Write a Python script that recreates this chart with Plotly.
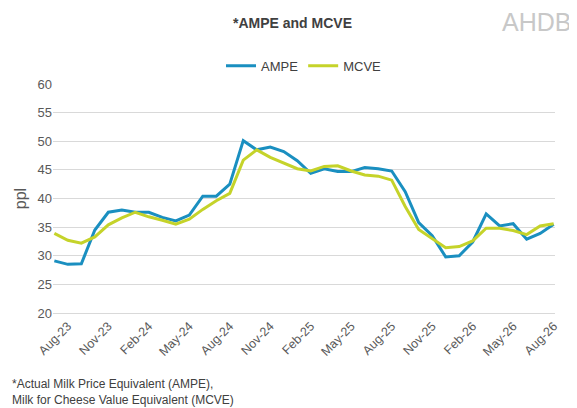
import plotly.graph_objects as go

# Monthly values, Jul-23 .. Aug-26 (ppl)
months = ["Jul-23", "Aug-23", "Sep-23", "Oct-23", "Nov-23", "Dec-23",
          "Jan-24", "Feb-24", "Mar-24", "Apr-24", "May-24", "Jun-24",
          "Jul-24", "Aug-24", "Sep-24", "Oct-24", "Nov-24", "Dec-24",
          "Jan-25", "Feb-25", "Mar-25", "Apr-25", "May-25", "Jun-25",
          "Jul-25", "Aug-25", "Sep-25", "Oct-25", "Nov-25", "Dec-25",
          "Jan-26", "Feb-26", "Mar-26", "Apr-26", "May-26", "Jun-26",
          "Jul-26", "Aug-26"]
ampe = [29.1, 28.5, 28.6, 34.5, 37.6, 38.0, 37.6, 37.6, 36.7, 36.1,
        37.1, 40.4, 40.4, 42.5, 50.1, 48.5, 49.0, 48.2, 46.6, 44.4,
        45.2, 44.7, 44.7, 45.4, 45.2, 44.8, 41.2, 35.8, 33.5, 29.8,
        30.0, 32.4, 37.3, 35.2, 35.6, 32.9, 33.9, 35.5]
mcve = [33.9, 32.7, 32.2, 33.3, 35.4, 36.6, 37.6, 36.8, 36.2, 35.5,
        36.4, 38.1, 39.6, 40.9, 46.7, 48.5, 47.2, 46.2, 45.2, 44.8,
        45.6, 45.7, 44.8, 44.1, 43.9, 43.2, 38.6, 34.6, 33.0, 31.4,
        31.6, 32.6, 34.8, 34.8, 34.4, 33.7, 35.2, 35.6]
tick_labels = months[1::3]

fig = go.Figure()
fig.add_trace(go.Scatter(x=months, y=ampe, mode="lines", name="AMPE",
                         line=dict(color="#1a8fc0", width=3)))
fig.add_trace(go.Scatter(x=months, y=mcve, mode="lines", name="MCVE",
                         line=dict(color="#c5d32a", width=3)))

fig.update_layout(
    width=569, height=400,
    paper_bgcolor="white", plot_bgcolor="white",
    font=dict(family="Liberation Sans, Arial", size=13, color="#595959"),
    margin=dict(l=45, r=22, t=76, b=95, autoexpand=False),
    title=dict(text="<b>*AMPE and MCVE</b>", x=0.5, y=0.975, xanchor="center",
               font=dict(size=14, color="#404040")),
    legend=dict(orientation="h", x=0.5, xanchor="center", y=1.08, yanchor="middle",
                font=dict(size=13, color="#404040")),
    showlegend=True,
)
fig.update_xaxes(type="category", tickvals=tick_labels, ticktext=tick_labels,
                 tickangle=-45, showgrid=False, showline=True, linecolor="#d9d9d9",
                 range=[-0.1, len(months) - 0.9], tickfont=dict(size=12.5))
fig.update_yaxes(range=[20, 60], dtick=5, showgrid=True, gridcolor="#d9d9d9",
                 zeroline=False, title=dict(text="ppl", standoff=6),
                 tickfont=dict(size=13))

fig.add_annotation(text="AHDB", xref="paper", yref="paper", x=1.035, y=1.27,
                   xanchor="right", yanchor="middle", showarrow=False,
                   font=dict(size=25, color="#c8c8c8"))
fig.add_annotation(text="*Actual Milk Price Equivalent (AMPE),<br>Milk for Cheese Value Equivalent (MCVE)",
                   xref="paper", yref="paper", x=-0.085, y=-0.27, xanchor="left",
                   yanchor="top", showarrow=False, align="left",
                   font=dict(size=12, color="#404040"))

fig.write_html("out.html")
